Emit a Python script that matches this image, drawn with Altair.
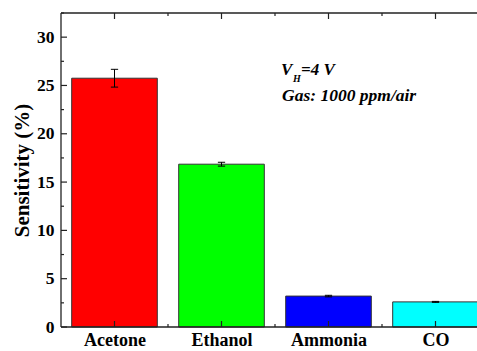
import json
import altair as alt
import pandas as pd

# ---- data ----
gases = ["Acetone", "Ethanol", "Ammonia", "CO"]
sensitivity = [25.75, 16.85, 3.2, 2.6]
errors = [0.92, 0.2, 0.08, 0.05]
bar_colors = ["#FF0000", "#00FF00", "#0000FF", "#00FFFF"]
y_major = [0, 5, 10, 15, 20, 25, 30]
y_minor = [2.5, 7.5, 12.5, 17.5, 22.5, 27.5, 32.5]
x_minor = [1.5, 2.5, 3.5]
note_lines = ["V", "H", "=4 V", "Gas: 1000 ppm/air"]

W, H = 416, 314
FONT = "Liberation Serif"
INK = "#222222"

df = pd.DataFrame({
    "gas": gases,
    "idx": list(range(1, len(gases) + 1)),
    "value": sensitivity,
    "err": errors,
})

xscale = alt.Scale(domain=[0.5, 0.5 + W / 107.0], nice=False, zero=False)
yscale = alt.Scale(domain=[0, 32.5], nice=False, zero=False)

label_expr = json.dumps(gases) + "[datum.value - 1]"

XAXIS = alt.Axis(values=[1, 2, 3, 4], labelExpr=label_expr, ticks=False,
                 tickSize=0, domain=False, grid=False, title=None,
                 labelFont=FONT, labelFontWeight="bold", labelFontSize=18,
                 labelColor="black", labelPadding=4)
YAXIS = alt.Axis(values=y_major, ticks=False, tickSize=0, domain=False,
                 grid=False, title="Sensitivity (%)",
                 labelFont=FONT, labelFontWeight="bold", labelFontSize=17.5,
                 labelColor="black", labelPadding=7,
                 titleFont=FONT, titleFontWeight="bold", titleFontSize=21,
                 titleColor="black", titleX=-39, titleY=H / 2,
                 titleBaseline="middle", titleAngle=270)


def X(f):
    return alt.X(f, scale=xscale, axis=XAXIS)


def Y(f):
    return alt.Y(f, scale=yscale, axis=YAXIS)


base = alt.Chart(df).transform_calculate(
    x0="datum.idx - 0.4",
    x1="datum.idx + 0.4",
    lo="datum.value - datum.err",
    hi="datum.value + datum.err",
    c0="datum.idx - 0.034",
    c1="datum.idx + 0.034",
    zero="0",
)

bars = base.mark_bar(stroke="#333333", strokeWidth=1).encode(
    x=X("x0:Q"),
    x2="x1:Q",
    y=Y("value:Q"),
    y2="zero:Q",
    color=alt.Color("gas:N", scale=alt.Scale(domain=gases, range=bar_colors), legend=None),
)

err_v = base.mark_rule(color="black", strokeWidth=1).encode(
    x=X("idx:Q"), y=Y("lo:Q"), y2="hi:Q",
)
err_top = base.mark_rule(color="black", strokeWidth=1).encode(
    x=X("c0:Q"), x2="c1:Q", y=Y("hi:Q"),
)
err_bot = base.mark_rule(color="black", strokeWidth=1).encode(
    x=X("c0:Q"), x2="c1:Q", y=Y("lo:Q"),
)

# frame lines
frame_df = pd.DataFrame({"k": [0]})
frame_left = alt.Chart(frame_df).mark_rule(color=INK, strokeWidth=1.3).encode(
    x=alt.value(0), y=alt.value(0), y2=alt.value(H))
frame_bottom = alt.Chart(frame_df).mark_rule(color=INK, strokeWidth=1.3).encode(
    x=alt.value(0), x2=alt.value(W + 2), y=alt.value(H))
frame_top = alt.Chart(frame_df).mark_rule(color=INK, strokeWidth=1.3).encode(
    x=alt.value(0), x2=alt.value(W + 2), y=alt.value(0))

# ticks (inward)
xmaj_df = pd.DataFrame({"p": df["idx"]})
xmin_df = pd.DataFrame({"p": x_minor})
ymaj_df = pd.DataFrame({"p": y_major})
ymin_df = pd.DataFrame({"p": y_minor})


def xticks(d, length):
    b = alt.Chart(d).mark_rule(color=INK, strokeWidth=1.2)
    bottom = b.encode(x=X("p:Q"), y=alt.value(H), y2=alt.value(H - length))
    top = b.encode(x=X("p:Q"), y=alt.value(0), y2=alt.value(length))
    return [bottom, top]


def yticks(d, length):
    b = alt.Chart(d).mark_rule(color=INK, strokeWidth=1.2)
    return [b.encode(y=Y("p:Q"), x=alt.value(0), x2=alt.value(length))]


tick_layers = xticks(xmaj_df, 6) + xticks(xmin_df, 3) + yticks(ymaj_df, 6) + yticks(ymin_df, 3)

# annotation
note_df = pd.DataFrame({"k": [0]})
txt = dict(font=FONT, fontWeight="bold", fontStyle="italic", color="black",
           align="left", baseline="alphabetic")
t_v = alt.Chart(note_df).mark_text(fontSize=17, **txt).encode(
    x=alt.value(220), y=alt.value(62), text=alt.value(note_lines[0]))
t_h = alt.Chart(note_df).mark_text(fontSize=10, **txt).encode(
    x=alt.value(232), y=alt.value(69), text=alt.value(note_lines[1]))
t_eq = alt.Chart(note_df).mark_text(fontSize=17, **txt).encode(
    x=alt.value(240), y=alt.value(62), text=alt.value(note_lines[2]))
t_gas = alt.Chart(note_df).mark_text(fontSize=17.5, **txt).encode(
    x=alt.value(221), y=alt.value(88), text=alt.value(note_lines[3]))

chart = alt.layer(
    bars, err_v, err_top, err_bot,
    frame_left, frame_bottom, frame_top,
    *tick_layers,
    t_v, t_h, t_eq, t_gas,
).properties(
    width=W, height=H,
    autosize=alt.AutoSizeParams(type="none"),
    padding={"left": 61, "top": 13, "right": 0, "bottom": 24},
    background="white",
).configure_view(stroke="transparent")

chart.save("out.html", embed_options={"renderer": "svg", "actions": False})
